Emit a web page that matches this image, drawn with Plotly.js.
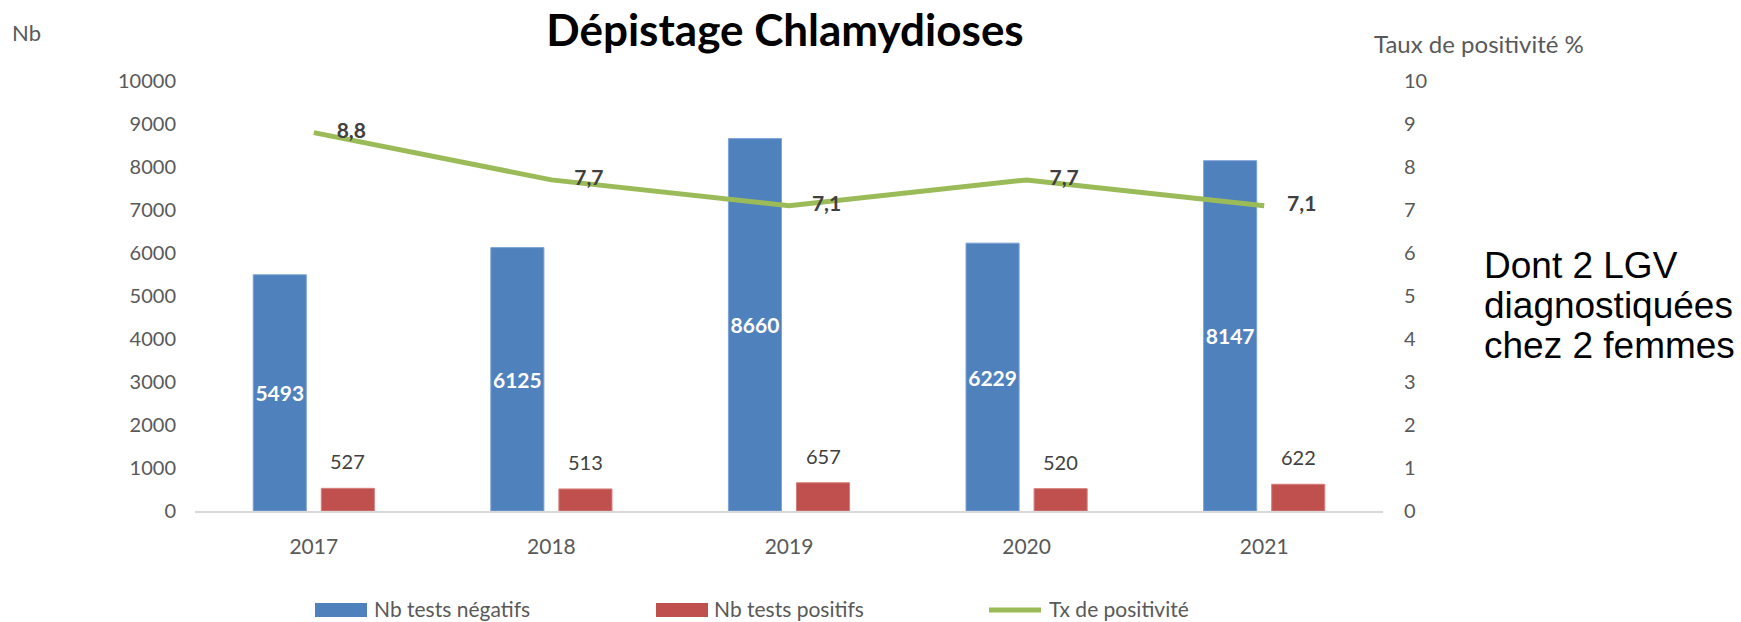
<!DOCTYPE html>
<html>
<head>
<meta charset="utf-8">
<script src="https://cdn.plot.ly/plotly-3.0.1.min.js"></script>
<style>
  html, body { margin: 0; padding: 0; background: #ffffff; }
  #chart { width: 1741px; height: 622px; }
</style>
</head>
<body>
<div id="chart"></div>
<script>
// ---- Data ----
const years = ['2017', '2018', '2019', '2020', '2021'];
const testsNegatifs = [5493, 6125, 8660, 6229, 8147];
const testsPositifs = [527, 513, 657, 520, 622];
const tauxPositivite = [8.8, 7.7, 7.1, 7.7, 7.1];

const seriesNames = ['Nb tests négatifs', 'Nb tests positifs', 'Tx de positivité'];
const titleText = 'Dépistage Chlamydioses';
const leftAxisLabel = 'Nb';
const rightAxisLabel = 'Taux de positivité %';
const noteLines = ['Dont 2 LGV', 'diagnostiquées', 'chez 2 femmes'];

// ---- Layout geometry ----
const W = 1741, H = 622;
const M = { l: 195, r: 358, t: 81, b: 111 };
const PW = W - M.l - M.r, PH = H - M.t - M.b;
const px = x => (x - M.l) / PW;
const py = y => (H - M.b - y) / PH;

const BLUE = '#4F81BD', RED = '#C0504D', GREEN = '#9BBB59';
const TICK = '#595959';
const FONT = 'Lato, "Open Sans", sans-serif';
const BARGAP = 0.427;
const catW = PW / years.length;
const slotW = catW * (1 - BARGAP) / 2;

const traces = [
  {
    type: 'bar', name: seriesNames[0], x: years, y: testsNegatifs,
    marker: { color: BLUE, line: { color: '#7DA3D6', width: 1 } },
    text: testsNegatifs.map(String), textposition: 'inside', insidetextanchor: 'middle',
    textangle: 0, constraintext: 'none',
    textfont: { family: FONT, size: 21, color: '#ffffff', weight: 'bold' },
    hoverinfo: 'skip'
  },
  {
    type: 'bar', name: seriesNames[1], x: years, y: testsPositifs,
    marker: { color: RED, line: { color: '#D67F7D', width: 1 } },
    hoverinfo: 'skip'
  },
  {
    type: 'scatter', name: seriesNames[2], x: years, y: tauxPositivite, yaxis: 'y2',
    mode: 'lines+markers+text',
    line: { color: GREEN, width: 5 },
    marker: { size: 35, color: 'rgba(0,0,0,0)' },
    text: tauxPositivite.map(v => '<b>' + v.toFixed(1).replace('.', ',') + '</b>'),
    textposition: 'middle right',
    textfont: { family: FONT, size: 21, color: '#404040', weight: 'bold' },
    cliponaxis: false,
    hoverinfo: 'skip'
  }
];

const annotations = [];
// red bar labels above bars (x given as category index)
testsPositifs.forEach((v, i) => {
  annotations.push({
    x: i, y: v, xref: 'x', yref: 'y', text: String(v), showarrow: false,
    xshift: slotW / 2, yshift: 27, yanchor: 'middle',
    font: { family: FONT, size: 20, color: '#404040' }
  });
});
// axis labels
annotations.push({ xref: 'paper', yref: 'paper', x: px(10), y: py(33), xanchor: 'left', yanchor: 'middle',
  text: leftAxisLabel, showarrow: false, font: { family: FONT, size: 22, color: TICK } });
annotations.push({ xref: 'paper', yref: 'paper', x: px(1372), y: py(44), xanchor: 'left', yanchor: 'middle',
  text: rightAxisLabel, showarrow: false, font: { family: FONT, size: 24, color: TICK } });
// note
const noteY = [265, 305, 345];
noteLines.forEach((t, i) => {
  annotations.push({ xref: 'paper', yref: 'paper', x: px(1482), y: py(noteY[i]), xanchor: 'left', yanchor: 'middle',
    text: t, showarrow: false, font: { family: '"Liberation Sans", Arial, sans-serif', size: 37, color: '#000000' } });
});
// legend texts
const legText = [372, 712, 1047];
seriesNames.forEach((t, i) => {
  annotations.push({ xref: 'paper', yref: 'paper', x: px(legText[i]), y: py(608), xanchor: 'left', yanchor: 'middle',
    text: t, showarrow: false, font: { family: FONT, size: 21, color: TICK } });
});

const shapes = [
  { type: 'rect', xref: 'paper', yref: 'paper', x0: px(315), x1: px(367), y0: py(603), y1: py(617),
    fillcolor: BLUE, line: { width: 0 } },
  { type: 'rect', xref: 'paper', yref: 'paper', x0: px(656), x1: px(708), y0: py(603), y1: py(617),
    fillcolor: RED, line: { width: 0 } },
  { type: 'line', xref: 'paper', yref: 'paper', x0: px(989), x1: px(1041), y0: py(610), y1: py(610),
    line: { color: GREEN, width: 5 } }
];

const layout = {
  width: W, height: H,
  margin: M,
  paper_bgcolor: '#ffffff', plot_bgcolor: '#ffffff',
  font: { family: FONT, size: 20, color: TICK },
  showlegend: false,
  barmode: 'group', bargap: BARGAP, bargroupgap: 0.22,
  title: {
    text: titleText, xref: 'container', yref: 'container',
    x: 785 / W, y: 1 - 31 / H, xanchor: 'center', yanchor: 'middle',
    font: { family: FONT, size: 44, color: '#000000', weight: 'bold' }
  },
  xaxis: {
    type: 'category', range: [-0.5, years.length - 0.5], autorange: false,
    showgrid: false, zeroline: false,
    showline: true, linecolor: '#D9D9D9', linewidth: 2,
    ticks: '', ticklabelstandoff: 16,
    tickfont: { family: FONT, size: 21, color: TICK }
  },
  yaxis: {
    range: [0, 10000], autorange: false, dtick: 1000, tick0: 0, tickformat: 'd',
    showgrid: false, zeroline: false, showline: false,
    ticks: '', ticklabelstandoff: 18,
    tickfont: { family: FONT, size: 20, color: TICK }
  },
  yaxis2: {
    overlaying: 'y', side: 'right', range: [0, 10], autorange: false, dtick: 1, tick0: 0,
    showgrid: false, zeroline: false, showline: false,
    ticks: '', ticklabelstandoff: 20,
    tickfont: { family: FONT, size: 20, color: TICK }
  },
  annotations: annotations,
  shapes: shapes
};

Plotly.newPlot('chart', traces, layout, { displayModeBar: false, staticPlot: true });
</script>
</body>
</html>
